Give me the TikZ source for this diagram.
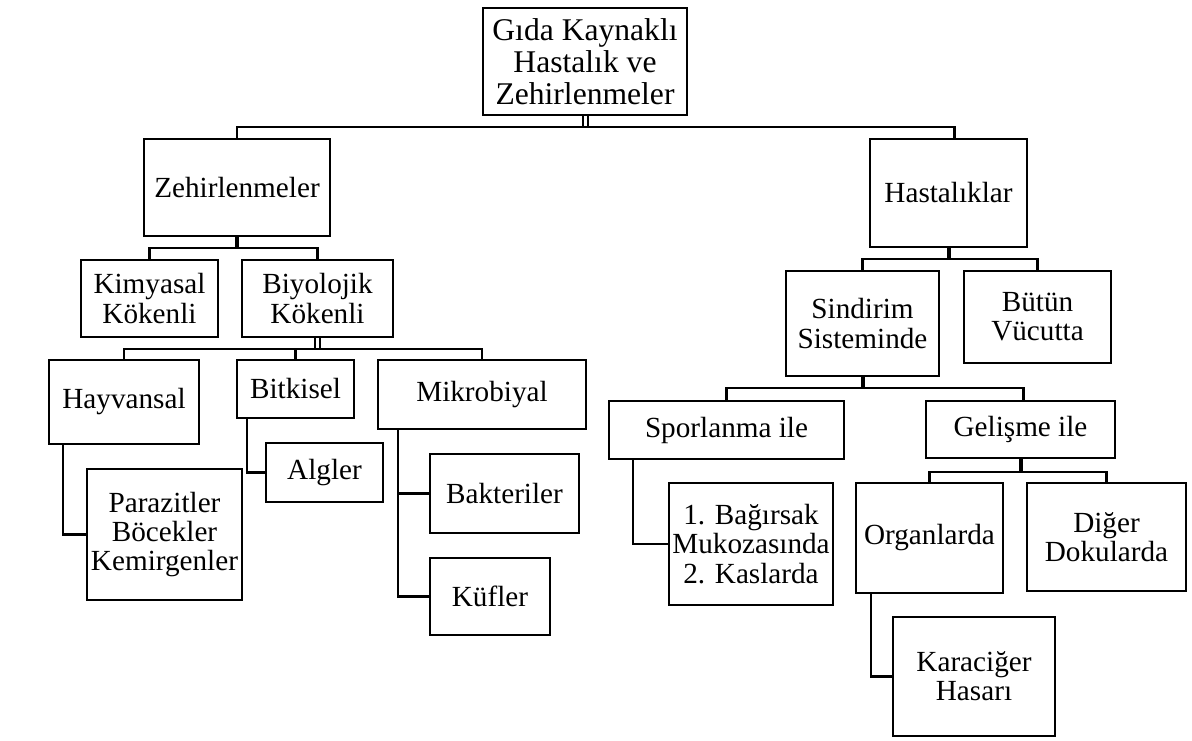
\documentclass[tikz,border=0pt]{standalone}
\usepackage{fontspec}
\setmainfont{Liberation Serif}
\begin{document}
\begin{tikzpicture}[x=0.5pt,y=-0.5pt,
  box/.style={draw, line width=1.2pt, fill=white, inner sep=0pt, align=center,
    font=\fontsize{14.6}{14.6}\selectfont},
  rootbox/.style={box, font=\fontsize{15.8}{16}\selectfont},
  conn/.style={line width=1.2pt},
  stem/.style={line width=2pt},
  dstem/.style={line width=1pt, double, double distance=1.5pt}]
\useasboundingbox (0,0) rectangle (1192,740);
\newcommand\mkbox[7][box]{\node[#1, minimum width={(#5-#3)*0.5pt}, minimum height={(#6-#4)*0.5pt}] (#2) at ({(#3+#5)/2},{(#4+#6)/2}) {#7};}
% boxes
\mkbox[rootbox]{root}{483}{8}{687}{115}{Gıda Kaynaklı\\Hastalık ve\\Zehirlenmeler}
\mkbox{zeh}{144}{139}{330}{236}{Zehirlenmeler}
\mkbox{has}{870}{139}{1027}{247}{Hastalıklar}
\mkbox{kim}{81}{260}{218}{337}{Kimyasal\\Kökenli}
\mkbox{biy}{242}{260}{393}{337}{Biyolojik\\Kökenli}
\mkbox{hay}{49}{360}{199}{444}{Hayvansal}
\mkbox{bit}{237}{360}{354}{418}{Bitkisel}
\mkbox{mik}{378}{360}{586}{429}{Mikrobiyal}
\mkbox{par}{87}{469}{242}{600}{Parazitler\\Böcekler\\Kemirgenler}
\mkbox{alg}{266}{443}{383}{502}{Algler}
\mkbox{bak}{430}{454}{579}{533}{Bakteriler}
\mkbox{kuf}{430}{558}{550}{635}{Küfler}
\mkbox{sin}{786}{271}{939}{376}{Sindirim\\Sisteminde}
\mkbox{but}{964}{271}{1111}{363}{Bütün\\Vücutta}
\mkbox{spo}{609}{401}{844}{459}{Sporlanma ile}
\mkbox{gel}{926}{401}{1115}{458}{Gelişme ile}
\mkbox{bag}{669}{483}{833}{605}{1. Bağırsak\\Mukozasında\\2. Kaslarda}
\mkbox{org}{856}{483}{1003}{593}{Organlarda}
\mkbox{dig}{1027}{483}{1186}{591}{Diğer\\Dokularda}
\mkbox{kar}{893}{617}{1055}{736}{Karaciğer\\Hasarı}
% bar levels
\coordinate (b0) at (0,127);
\coordinate (b1) at (0,248);
\coordinate (b2) at (0,349);
\coordinate (b3) at (0,259);
\coordinate (b4) at (0,388);
\coordinate (b5) at (0,472);
% root
\draw[dstem] (root.south) -- (root.south |- b0);
\draw[conn] (zeh.north) -- (zeh.north |- b0) -- ([xshift=3pt]has.north |- b0) -- ([xshift=3pt]has.north);
% zehirlenmeler
\draw[stem] (zeh.south) -- (zeh.south |- b1);
\draw[conn] (kim.north) -- (kim.north |- b1) -- (biy.north |- b1) -- (biy.north);
% biyolojik
\draw[dstem] (biy.south) -- (biy.south |- b2);
\draw[conn] (hay.north) -- (hay.north |- b2) -- (mik.north |- b2) -- (mik.north);
\draw[conn] (bit.north) -- (bit.north |- b2);
% side branches
\draw[conn] ([xshift=7.5pt]hay.south west) |- (par.west);
\draw[conn] ([xshift=5.5pt]bit.south west) |- (alg.west);
\draw[conn] ([xshift=10.5pt]mik.south west) |- (kuf.west);
\draw[conn] ([xshift=10.5pt]mik.south west |- bak.west) -- (bak.west);
% hastaliklar
\draw[stem] (has.south) -- (has.south |- b3);
\draw[conn] (sin.north) -- (sin.north |- b3) -- (but.north |- b3) -- (but.north);
% sindirim
\draw[stem] (sin.south) -- (sin.south |- b4);
\draw[conn] (spo.north) -- (spo.north |- b4) -- ([xshift=1.5pt]gel.north |- b4) -- ([xshift=1.5pt]gel.north);
\draw[conn] ([xshift=12.5pt]spo.south west) |- (bag.west);
% gelisme
\draw[stem] (gel.south) -- (gel.south |- b5);
\draw[conn] (org.north) -- (org.north |- b5) -- (dig.north |- b5) -- (dig.north);
\draw[conn] ([xshift=8pt]org.south west) |- (kar.west);
\end{tikzpicture}
\end{document}
